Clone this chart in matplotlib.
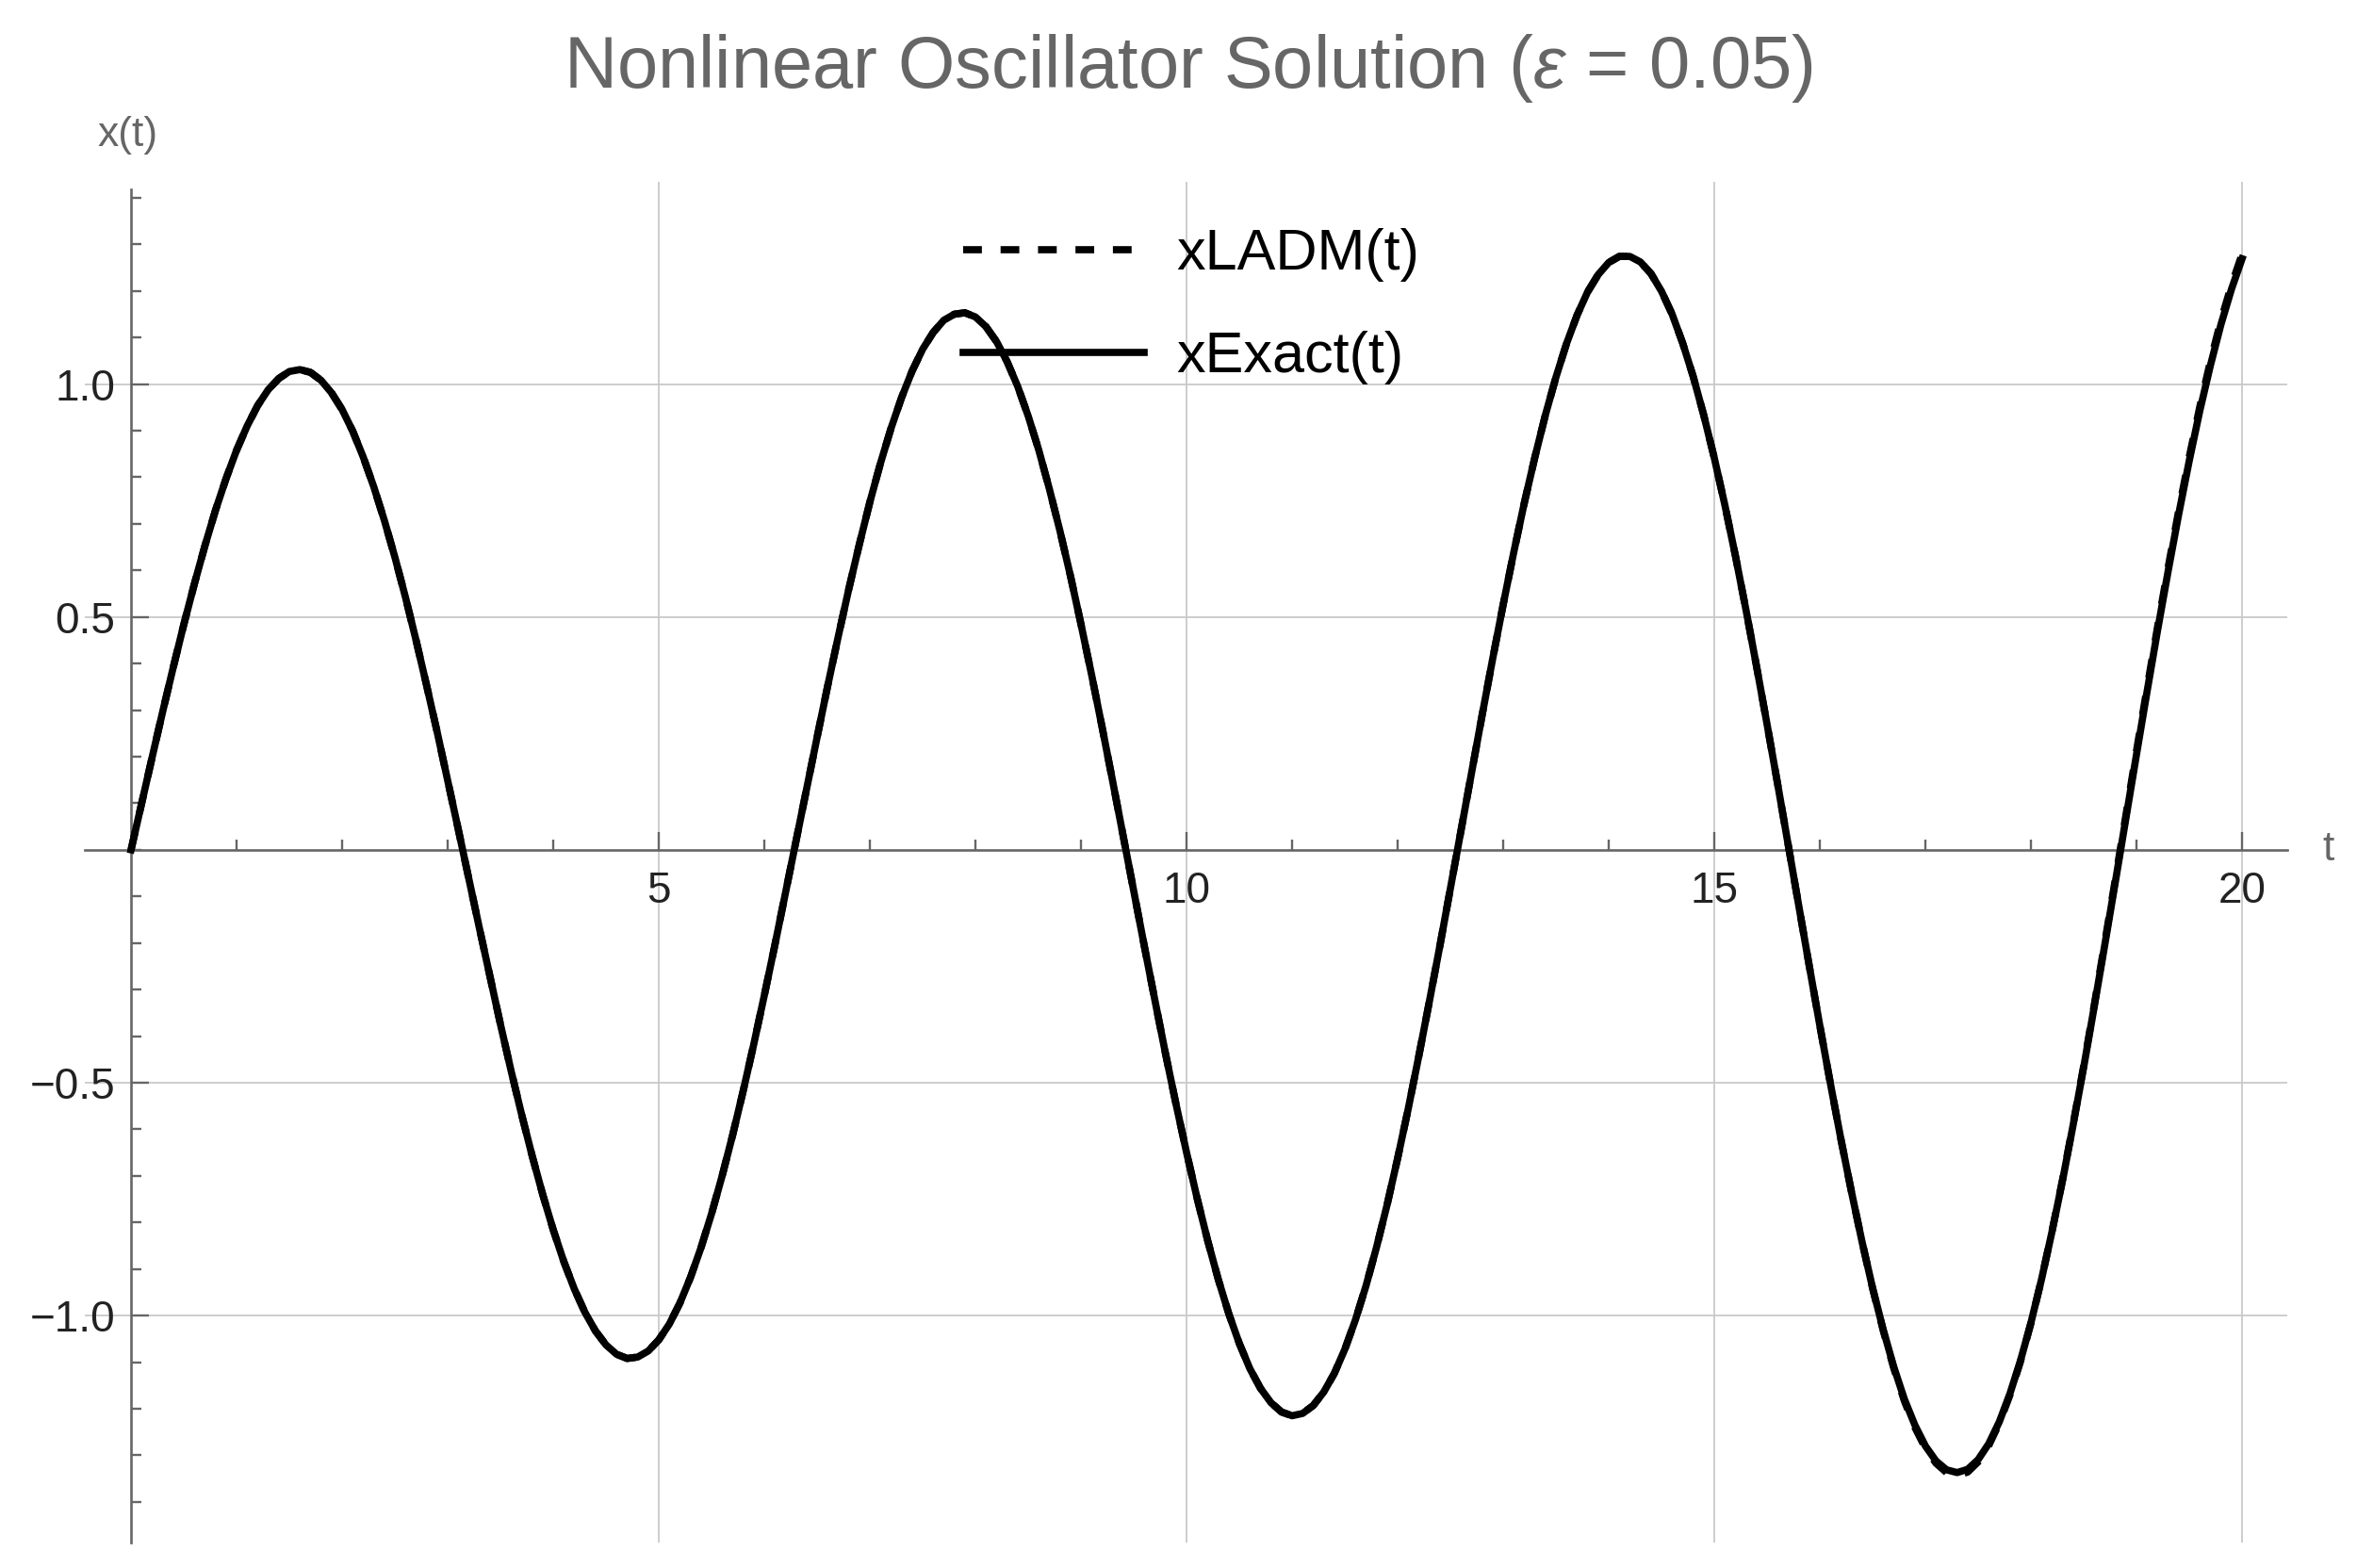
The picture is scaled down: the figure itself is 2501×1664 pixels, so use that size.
import numpy as np
import matplotlib
matplotlib.use("Agg")
from matplotlib import pyplot as plt
from matplotlib.ticker import FixedLocator, MultipleLocator

plt.rcParams["font.family"] = ["Liberation Sans", "DejaVu Sans"]
plt.rcParams["mathtext.fontset"] = "custom"
plt.rcParams["mathtext.rm"] = "Liberation Sans"
plt.rcParams["mathtext.it"] = "Liberation Sans:italic"

# sample instants, every 0.1 from 0 to 20
t = np.linspace(0, 20, 201)

# values
x_exact = [
    0.000, 0.100, 0.199, 0.297, 0.392, 0.484, 0.571, 0.653, 0.729, 0.797,
    0.858, 0.910, 0.954, 0.988, 1.012, 1.027, 1.031, 1.025, 1.008, 0.981,
    0.945, 0.899, 0.843, 0.779, 0.707, 0.628, 0.542, 0.450, 0.353, 0.253,
    0.149, 0.044, -0.062, -0.168, -0.272, -0.375, -0.474, -0.568, -0.657, -0.740,
    -0.816, -0.884, -0.943, -0.993, -1.033, -1.063, -1.083, -1.092, -1.089, -1.076,
    -1.052, -1.018, -0.973, -0.918, -0.854, -0.781, -0.700, -0.612, -0.517, -0.417,
    -0.312, -0.204, -0.093, 0.019, 0.131, 0.242, 0.352, 0.458, 0.560, 0.656,
    0.747, 0.830, 0.905, 0.971, 1.028, 1.075, 1.111, 1.137, 1.150, 1.153,
    1.144, 1.123, 1.091, 1.048, 0.995, 0.931, 0.858, 0.775, 0.685, 0.588,
    0.484, 0.376, 0.263, 0.147, 0.029, -0.089, -0.207, -0.323, -0.437, -0.546,
    -0.650, -0.748, -0.839, -0.922, -0.996, -1.060, -1.114, -1.156, -1.187, -1.207,
    -1.215, -1.210, -1.193, -1.164, -1.124, -1.072, -1.009, -0.936, -0.853, -0.762,
    -0.662, -0.556, -0.443, -0.326, -0.206, -0.082, 0.042, 0.166, 0.289, 0.410,
    0.527, 0.639, 0.745, 0.843, 0.934, 1.015, 1.087, 1.148, 1.198, 1.235,
    1.261, 1.274, 1.274, 1.262, 1.237, 1.199, 1.150, 1.088, 1.016, 0.933,
    0.841, 0.740, 0.631, 0.515, 0.394, 0.269, 0.141, 0.010, -0.120, -0.250,
    -0.378, -0.502, -0.622, -0.735, -0.842, -0.941, -1.030, -1.110, -1.179, -1.235,
    -1.280, -1.312, -1.331, -1.337, -1.330, -1.309, -1.275, -1.228, -1.168, -1.097,
    -1.015, -0.922, -0.819, -0.709, -0.590, -0.466, -0.336, -0.203, -0.068, 0.069,
    0.205, 0.340, 0.472, 0.599, 0.721, 0.836, 0.943, 1.040, 1.128, 1.204,
    1.269,
]

# dashed curve sits on the solid one until about t = 16.5, then drifts a little
ladm_tail = [
    -0.942, -1.032, -1.113, -1.183, -1.240, -1.285, -1.317, -1.337, -1.343, -1.336,
    -1.314, -1.279, -1.231, -1.171, -1.099, -1.016, -0.922, -0.818, -0.707, -0.588,
    -0.463, -0.332, -0.198, -0.062, 0.076, 0.213, 0.348, 0.480, 0.607, 0.729,
    0.844, 0.952, 1.049, 1.137, 1.213, 1.279,
]
x_ladm = x_exact[:165] + ladm_tail

xticks = [5, 10, 15, 20]
yticks = [-1.0, -0.5, 0.5, 1.0]
ytick_labels = ["\u22121.0", "\u22120.5", "0.5", "1.0"]

gray = "#666666"

fig = plt.figure(figsize=(25.01, 16.64), dpi=100)
ax = fig.add_axes([0.0359, 0.0163, 0.9346, 0.8680])

ax.plot(t, x_ladm, color="black", lw=5.5, ls=(0, (2.6, 2.6)), label="xLADM(t)", zorder=4)
ax.plot(t, x_exact, color="black", lw=5.5, label="xExact(t)", zorder=3)

ax.set_xlim(-0.44, 20.43)
ax.set_ylim(-1.487, 1.435)

ax.spines["top"].set_visible(False)
ax.spines["right"].set_visible(False)
for side in ["left", "bottom"]:
    ax.spines[side].set_position(("data", 0))
    ax.spines[side].set_color(gray)
    ax.spines[side].set_linewidth(1.9)
ax.spines["left"].set_bounds(-1.487, 1.418)

ax.xaxis.set_major_locator(FixedLocator(xticks))
ax.xaxis.set_minor_locator(MultipleLocator(1))
ax.set_yticks(yticks, ytick_labels)
ax.yaxis.set_minor_locator(MultipleLocator(0.1))

ax.tick_params(which="both", direction="in", color=gray, width=1.7,
               labelsize=33, labelcolor="#222222")
ax.tick_params(which="major", length=13.5)
ax.tick_params(which="minor", length=8)
ax.tick_params(axis="x", pad=16)
ax.tick_params(axis="y", pad=12)

ax.grid(True, which="major", color="#c9c9c9", lw=1.3)
ax.set_axisbelow(True)

ax.legend(loc="upper left", bbox_to_anchor=(0.4086, 0.8546), bbox_transform=fig.transFigure,
          frameon=False, fontsize=44, handlelength=3.15, handletextpad=0.55,
          labelspacing=0.85, borderpad=0, borderaxespad=0)

fig.text(0.5042, 0.9441, r"Nonlinear Oscillator Solution ($\varepsilon$ = 0.05)",
         ha="center", va="baseline", fontsize=56, color=gray)
fig.text(0.0544, 0.9069, "x(t)", ha="center", va="baseline", fontsize=32, color=gray)
fig.text(0.988, 0.4585, "t", ha="center", va="center", fontsize=32, color=gray)

fig.savefig("out.png", dpi=100)
